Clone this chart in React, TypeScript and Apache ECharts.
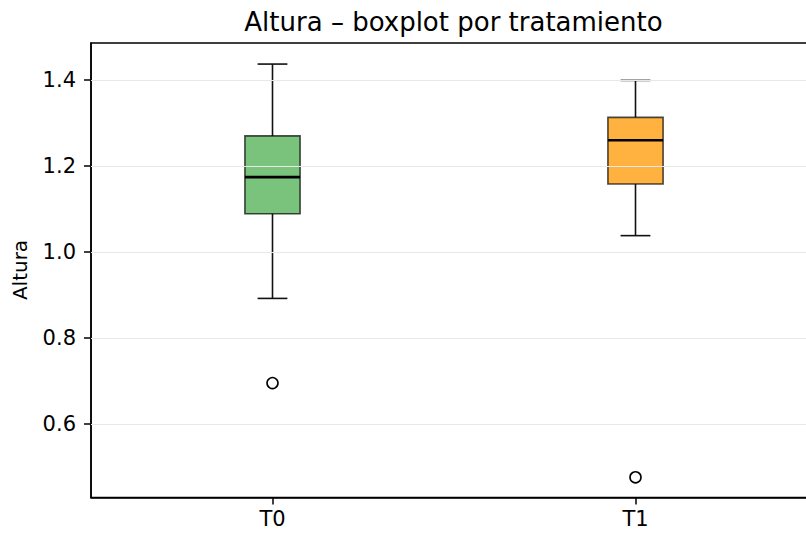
import React, { useEffect, useRef } from "react";
import * as echarts from "echarts";

const categories = ["T0", "T1"];
const whiskerLow = [0.892, 1.038];
const q1 = [1.089, 1.158];
const medians = [1.174, 1.26];
const q3 = [1.27, 1.313];
const whiskerHigh = [1.437, 1.399];
const outlierCategories = ["T0", "T1"];
const outlierValues = [0.695, 0.476];
const boxColors = ["rgba(76,175,80,0.75)", "rgba(255,152,0,0.75)"];
const yTicks = [0.6, 0.8, 1.0, 1.2, 1.4];
const yMin = 0.429;
const yMax = 1.486;

const FONT = "DejaVu Sans";

export default function App() {
  const ref = useRef<HTMLDivElement>(null);
  useEffect(() => {
    if (!ref.current) return;
    const chart = echarts.init(ref.current, undefined, { renderer: "svg" });
    const boxData = categories.map((c, i) => [c, whiskerLow[i], q1[i], medians[i], q3[i], whiskerHigh[i]]);
    const outlierData = outlierCategories.map((c, i) => [c, outlierValues[i]]);
    chart.setOption({
      animation: false,
      textStyle: { fontFamily: FONT },
      grid: {
        left: 91,
        top: 43,
        width: 726,
        height: 454.5,
        show: true,
        borderColor: "#000",
        borderWidth: 1.5,
        backgroundColor: "transparent",
        outerBoundsMode: "none",
        containLabel: false,
      },
      graphic: [
        {
          type: "text",
          x: 453.5,
          y: 22,
          style: {
            text: "Altura – boxplot por tratamiento",
            fontFamily: FONT,
            fontSize: 26,
            fill: "#000",
            align: "center",
            verticalAlign: "middle",
          },
        },
        {
          type: "text",
          x: 20,
          y: 270,
          rotation: Math.PI / 2,
          style: {
            text: "Altura",
            fontFamily: FONT,
            fontSize: 20,
            fill: "#000",
            align: "center",
            verticalAlign: "middle",
          },
        },
      ],
      xAxis: {
        type: "category",
        data: categories,
        boundaryGap: true,
        axisLine: { show: true, lineStyle: { color: "#000", width: 1.5 } },
        axisTick: { show: true, alignWithLabel: true, length: 7, lineStyle: { color: "#000", width: 1.5 } },
        axisLabel: { color: "#000", fontSize: 21, fontFamily: FONT, margin: 11 },
        splitLine: { show: false },
      },
      yAxis: {
        type: "value",
        min: yMin,
        max: yMax,
        axisLine: { show: true, lineStyle: { color: "#000", width: 1.5 } },
        axisTick: { show: true, length: 7, customValues: yTicks, lineStyle: { color: "#000", width: 1.5 } },
        axisLabel: {
          color: "#000",
          fontSize: 21,
          fontFamily: FONT,
          margin: 15,
          customValues: yTicks,
          formatter: (v: number) => v.toFixed(1),
        },
        splitLine: { show: false },
      },
      series: [
        {
          type: "line",
          data: [],
          markLine: {
            silent: true,
            symbol: "none",
            label: { show: false },
            lineStyle: { color: "#e8e8e8", width: 1.2, type: "solid" },
            data: yTicks.map((v) => ({ yAxis: v })),
          },
          z: 1,
        },
        {
          type: "custom",
          data: boxData,
          encode: { x: 0, y: [1, 2, 3, 4, 5] },
          z: 3,
          renderItem: (params: any, api: any) => {
            const x = api.value(0);
            const lo = api.coord([x, api.value(1)]);
            const b1 = api.coord([x, api.value(2)]);
            const md = api.coord([x, api.value(3)]);
            const b3 = api.coord([x, api.value(4)]);
            const hi = api.coord([x, api.value(5)]);
            const band = api.size([1, 0])[0];
            const bw = band * 0.152;
            const cw = bw * 0.54;
            const cx = lo[0];
            const idx = params.dataIndex;
            const wStyle = { stroke: "#111", lineWidth: 1.6 };
            return {
              type: "group",
              children: [
                { type: "line", shape: { x1: cx, y1: hi[1], x2: cx, y2: b3[1] }, style: wStyle },
                { type: "line", shape: { x1: cx, y1: b1[1], x2: cx, y2: lo[1] }, style: wStyle },
                { type: "line", shape: { x1: cx - cw / 2, y1: hi[1], x2: cx + cw / 2, y2: hi[1] }, style: wStyle },
                { type: "line", shape: { x1: cx - cw / 2, y1: lo[1], x2: cx + cw / 2, y2: lo[1] }, style: wStyle },
                {
                  type: "rect",
                  shape: { x: cx - bw / 2, y: b3[1], width: bw, height: b1[1] - b3[1] },
                  style: { fill: boxColors[idx], stroke: "rgba(0,0,0,0.7)", lineWidth: 1.6 },
                },
                {
                  type: "line",
                  shape: { x1: cx - bw / 2, y1: md[1], x2: cx + bw / 2, y2: md[1] },
                  style: { stroke: "#000", lineWidth: 2.6 },
                },
              ],
            };
          },
        },
        {
          type: "scatter",
          data: outlierData,
          symbol: "circle",
          symbolSize: 11,
          z: 4,
          itemStyle: { color: "#fff", borderColor: "#000", borderWidth: 1.6, opacity: 1 },
        },
      ],
    });
    return () => chart.dispose();
  }, []);
  return <div ref={ref} style={{ width: 806, height: 534, position: "absolute", left: 0, top: 0 }} />;
}
